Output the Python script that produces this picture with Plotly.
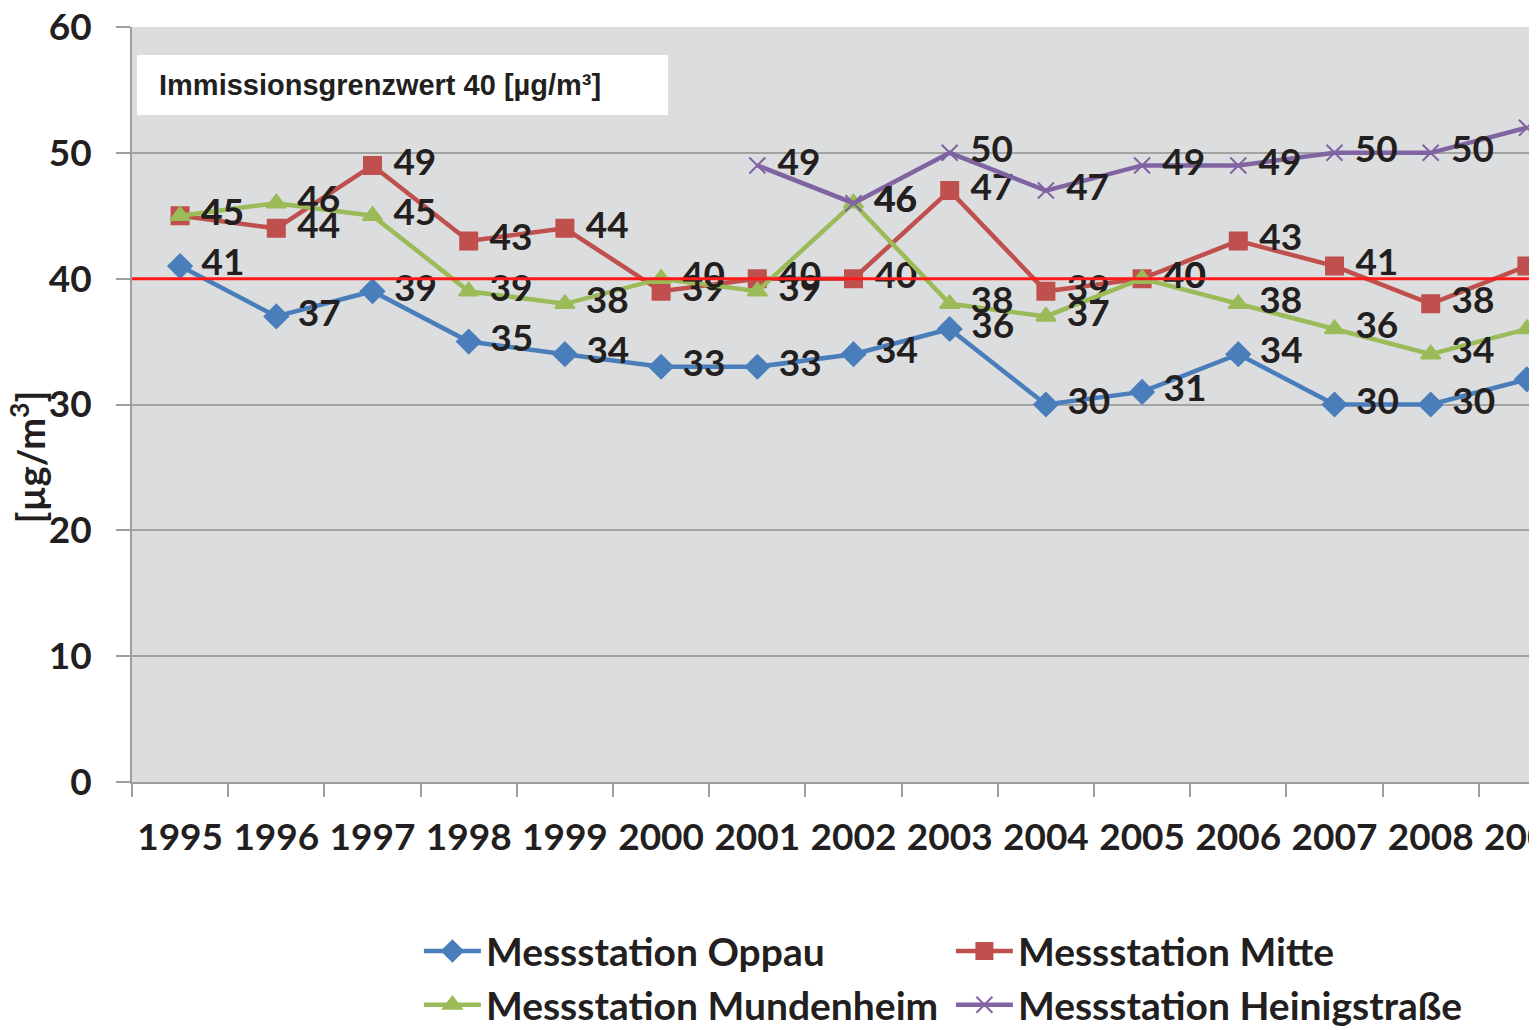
import plotly.graph_objects as go

years = ["1995", "1996", "1997", "1998", "1999", "2000", "2001", "2002",
         "2003", "2004", "2005", "2006", "2007", "2008", "2009"]
oppau = [41, 37, 39, 35, 34, 33, 33, 34, 36, 30, 31, 34, 30, 30, 32]
mitte = [45, 44, 49, 43, 44, 39, 40, 40, 47, 39, 40, 43, 41, 38, 41]
mundenheim = [45, 46, 45, 39, 38, 40, 39, 46, 38, 37, 40, 38, 36, 34, 36]
heinig = [None, None, None, None, None, None, 49, 46, 50, 47, 49, 49, 50, 50, 52]
limit_value = 40
y_ticks = [0, 10, 20, 30, 40, 50, 60]

FONT = "Lato, Open Sans, sans-serif"
TXT = "#231F20"

series = [
    ("Messstation Oppau", oppau, "#4A7EBB", "diamond", 18),
    ("Messstation Mitte", mitte, "#C0504D", "square", 17),
    ("Messstation Mundenheim", mundenheim, "#9BBB59", "triangle-up", 17),
    ("Messstation Heinigstraße", heinig, "#8064A2", "x-thin-open", 16),
]

fig = go.Figure()
for name, vals, col, sym, sz in series:
    fig.add_trace(go.Scatter(
        x=years, y=vals, name=name, mode="lines+markers+text",
        line=dict(color=col, width=4.5),
        marker=dict(symbol=sym, size=sz, color=col, line=dict(color=col, width=2)),
        text=[("" if v is None else "\u2009\u2009" + str(v)) for v in vals],
        textposition="middle right",
        textfont=dict(family=FONT, size=37, color=TXT, weight="bold"),
        cliponaxis=False,
        connectgaps=False,
    ))

# limit line
fig.add_shape(type="line", xref="paper", x0=0, x1=1, yref="y",
              y0=limit_value, y1=limit_value,
              line=dict(color="#FF1A1A", width=3), layer="above")

# label box
fig.add_shape(type="rect", xref="paper", yref="paper",
              x0=0.0036, x1=0.3815, y0=0.8834, y1=0.963,
              fillcolor="white", line=dict(width=0), layer="below")
fig.add_annotation(xref="paper", yref="paper", x=0.0178, y=0.923,
                   xanchor="left", yanchor="middle", showarrow=False,
                   text="Immissionsgrenzwert 40 [µg/m³]",
                   font=dict(family="Liberation Sans, Arial, sans-serif",
                             size=29, color=TXT, weight="bold"))

# y axis title
fig.add_annotation(xref="paper", yref="paper", x=-0.074, y=0.43,
                   xanchor="center", yanchor="middle", showarrow=False,
                   textangle=-90, text="[µg/m<sup>3</sup>]",
                   font=dict(family=FONT, size=38, color=TXT, weight="bold"))

fig.update_layout(
    width=1529, height=1030, autosize=False,
    margin=dict(l=124, r=0, t=19, b=256, pad=0),
    paper_bgcolor="white", plot_bgcolor="#DCDDDF",
    showlegend=True,
    legend=dict(orientation="h", x=0.2042, y=-0.338, xanchor="left", yanchor="bottom",
                entrywidth=460, entrywidthmode="pixels",
                font=dict(family=FONT, size=39, color=TXT, weight="bold"),
                itemwidth=57, tracegroupgap=0, bgcolor="rgba(0,0,0,0)"),
    xaxis=dict(type="category", range=[-0.5, 14.105], showgrid=False,
               showline=True, linecolor="#9E9E9E", linewidth=2,
               ticks="outside", tickson="boundaries", ticklen=13,
               tickcolor="#9E9E9E", tickwidth=2, ticklabelstandoff=22,
               tickfont=dict(family=FONT, size=37, color=TXT, weight="bold"),
               automargin=False, zeroline=False),
    yaxis=dict(range=[0, 60], tickvals=y_ticks, showgrid=True,
               gridcolor="#A3A3A3", gridwidth=2,
               showline=True, linecolor="#9E9E9E", linewidth=2,
               ticks="outside", ticklen=14, tickcolor="#9E9E9E", tickwidth=2,
               ticklabelstandoff=17, ticklabeloverflow="allow",
               tickfont=dict(family=FONT, size=37, color=TXT, weight="bold"),
               automargin=False, zeroline=False),
)

fig.write_html("out.html")
